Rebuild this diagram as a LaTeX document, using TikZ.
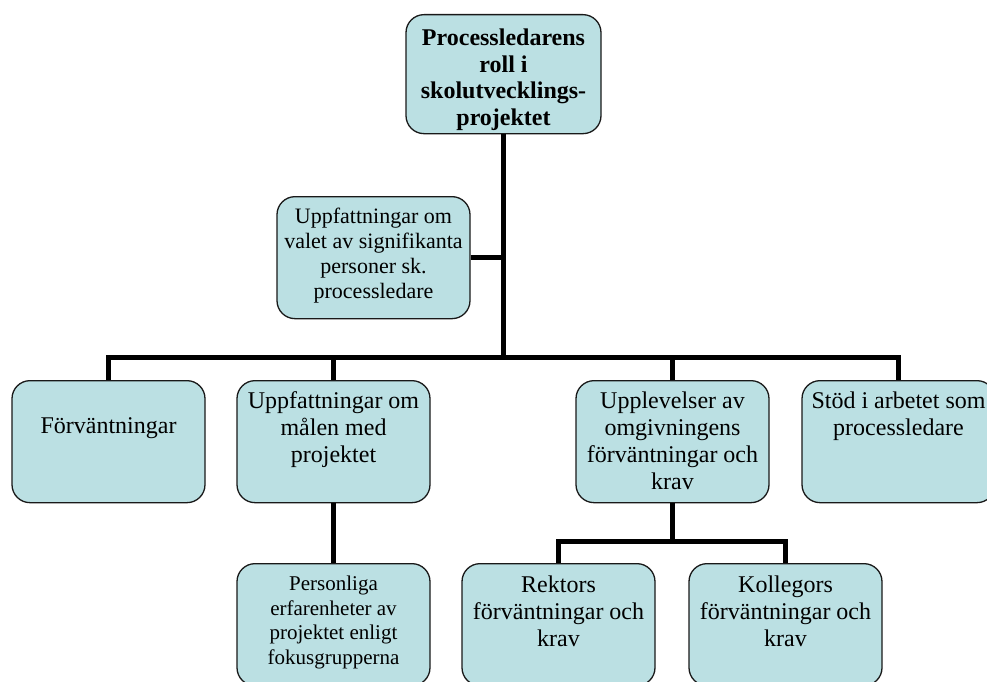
\documentclass[tikz,border=0pt]{standalone}
\usepackage{fontspec}
\setmainfont{Liberation Serif}
\definecolor{boxfill}{HTML}{BBE0E3}
% text set from the top of a box: height, first baseline, lines
\newcommand{\celltext}[3]{\parbox[c][#1][t]{186pt}{\centering\rule{0pt}{#2}#3}}

\begin{document}
\begin{tikzpicture}[x=1pt,y=-1pt,
  unit/.style={draw=black!90,line width=1.3pt,fill=boxfill,rounded corners=18pt,
    inner sep=0pt,minimum width=193pt,anchor=north,
    font=\fontsize{24pt}{27pt}\selectfont},
  link/.style={line width=5pt,line join=miter}]
  \useasboundingbox (0,0) rectangle (987,682);
  \clip (0,0) rectangle (987,682);

  \coordinate (bus) at (0,357);
  \coordinate (subbus) at (0,541);

  % rutor
  \node[unit,minimum width=195pt,font=\bfseries\fontsize{24pt}{26.5pt}\selectfont] (roll) at (503.5,14)
    {\celltext{119pt}{31pt}{Processledarens\\roll i\\skolutvecklings-\\projektet}};
  \node[unit,font=\fontsize{22pt}{25pt}\selectfont] (valet) at (373.5,196)
    {\celltext{122pt}{27pt}{Uppfattningar om\\valet av signifikanta\\personer sk.\\processledare}};

  \node[unit] (forv) at (108.5,380) {\celltext{122pt}{53pt}{Förväntningar}};
  \node[unit] (malen) at (333.5,380) {\celltext{122pt}{28pt}{Uppfattningar om\\målen med\\projektet}};
  \node[unit] (uppl) at (672.5,380) {\celltext{122pt}{28pt}{Upplevelser av\\omgivningens\\förväntningar och\\krav}};
  \node[unit] (stod) at (898.5,380) {\celltext{122pt}{28pt}{Stöd i arbetet som\\processledare}};

  \node[unit,font=\fontsize{21pt}{24.5pt}\selectfont] (pers) at (333.5,563)
    {\celltext{122pt}{27pt}{Personliga\\erfarenheter av\\projektet enligt\\fokusgrupperna}};
  \node[unit] (rekt) at (558.5,563) {\celltext{122pt}{29pt}{Rektors\\förväntningar och\\krav}};
  \node[unit] (koll) at (785.5,563) {\celltext{122pt}{29pt}{Kollegors\\förväntningar och\\krav}};

  % linjer
  \draw[link] (roll.south) -- (roll.south |- bus);
  \draw[link] (valet.east) -- (valet.east -| roll.south);
  \draw[link] (forv.north) -- (forv.north |- bus) -- (stod.north |- bus) -- (stod.north);
  \draw[link] (malen.north) -- (malen.north |- bus);
  \draw[link] (uppl.north) -- (uppl.north |- bus);
  \draw[link] (malen.south) -- (pers.north);
  \draw[link] (uppl.south) -- (uppl.south |- subbus);
  \draw[link] (rekt.north) -- (rekt.north |- subbus) -- (koll.north |- subbus) -- (koll.north);
\end{tikzpicture}
\end{document}
